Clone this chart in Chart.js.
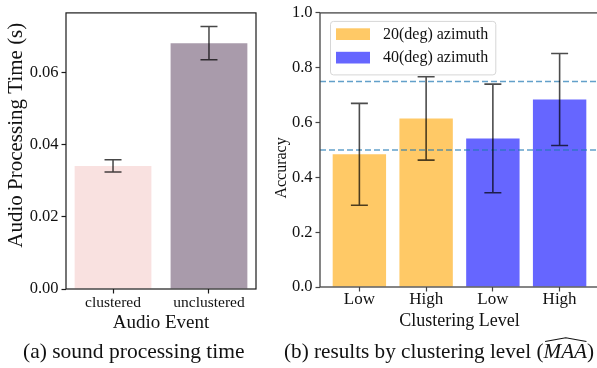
<!DOCTYPE html>
<html>
<head>
<meta charset="utf-8">
<script src="https://cdn.jsdelivr.net/npm/chart.js@4.4.1/dist/chart.umd.min.js"></script>
<style>
  html, body { margin: 0; padding: 0; background: #fff; overflow: hidden; }
  body { width: 597px; height: 368px; position: relative; font-family: 'Liberation Serif', serif; color: #111; }
  #timeChart { position: absolute; left: 0; top: 0; }
  #accChart { position: absolute; left: 270px; top: 0; }
  .caption { position: absolute; top: 341px; font-size: 21.5px; line-height: 1; white-space: nowrap; }
  #capA { left: 23px; }
  #capB { left: 284px; font-size: 21.2px; }
  .hat { position: relative; display: inline-block; }
  .hat svg { position: absolute; left: 1px; top: -4px; width: 100%; height: 5px; }
</style>
</head>
<body>
<canvas id="timeChart" width="270" height="340"></canvas>
<canvas id="accChart" width="335" height="340"></canvas>
<div class="caption" id="capA">(a) sound processing time</div>
<div class="caption" id="capB">(b) results by clustering level (<span class="hat"><i>MAA</i><svg viewBox="0 0 40 5" preserveAspectRatio="none"><path d="M1 4.5 L20 0.8 L39 4.5" fill="none" stroke="#111" stroke-width="1"/></svg></span>)</div>
<script>
// (a) processing time per audio event
const events = ['clustered', 'unclustered'];
const procTime = [0.0341, 0.0681];
const procTimeErr = [0.0017, 0.0046];
const eventColors = ['#f9e1e0', '#a99bab'];
const timeTicks = [0, 0.02, 0.04, 0.06];

// (b) accuracy by clustering level
const levels = ['Low', 'High', 'Low', 'High'];
const acc20 = [0.484, 0.615];
const acc20Err = [0.186, 0.152];
const acc40 = [0.542, 0.684];
const acc40Err = [0.198, 0.168];
const accTicks = [0, 0.2, 0.4, 0.6, 0.8, 1.0];
const refLevels = [0.75, 0.5];
const accXRange = [-0.59, 3.59];

Chart.defaults.font.family = "'Liberation Serif', serif";
Chart.defaults.color = '#111';

const errorBars = {
  id: 'errorBars',
  afterDatasetsDraw(chart, args, o) {
    const { ctx, scales: { y } } = chart;
    ctx.save();
    ctx.strokeStyle = o.color;
    ctx.lineWidth = o.width;
    chart.data.datasets.forEach((ds, i) => {
      if (!ds.errors) return;
      chart.getDatasetMeta(i).data.forEach((bar, j) => {
        const v = ds.data[j].y, e = ds.errors[j];
        const top = y.getPixelForValue(v + e), bot = y.getPixelForValue(v - e);
        ctx.beginPath();
        ctx.moveTo(bar.x, top); ctx.lineTo(bar.x, bot);
        ctx.moveTo(bar.x - o.cap, top); ctx.lineTo(bar.x + o.cap, top);
        ctx.moveTo(bar.x - o.cap, bot); ctx.lineTo(bar.x + o.cap, bot);
        ctx.stroke();
      });
    });
    ctx.restore();
  }
};

const frame = {
  id: 'frame',
  afterDraw(chart, args, o) {
    const { ctx, chartArea: a } = chart;
    ctx.save();
    ctx.strokeStyle = o.color;
    ctx.lineWidth = o.width;
    ctx.strokeRect(a.left, a.top, a.right - a.left, a.bottom - a.top);
    ctx.restore();
  }
};

// matplotlib-like legend box inside the plot area
const boxLegend = {
  id: 'boxLegend',
  afterDraw(chart, args, o) {
    if (!o.display) return;
    const { ctx, chartArea: a } = chart;
    const items = chart.data.datasets.filter(d => d.type !== 'line');
    ctx.save();
    ctx.font = o.fontSize + "px 'Liberation Serif'";
    const textW = Math.max(...items.map(d => ctx.measureText(d.label).width));
    const x0 = a.left + o.offsetX, y0 = a.top + o.offsetY;
    const w = o.padL + o.boxW + o.gap + textW + o.padR;
    const h = o.padT + o.padB + items.length * o.rowH;
    ctx.beginPath();
    ctx.roundRect(x0 + 0.5, y0 + 0.5, w, h, 3);
    ctx.fillStyle = 'rgba(255,255,255,0.8)';
    ctx.fill();
    ctx.strokeStyle = '#d6d6d6';
    ctx.lineWidth = 1;
    ctx.stroke();
    ctx.textBaseline = 'middle';
    items.forEach((d, i) => {
      const cy = y0 + o.padT + o.rowH * (i + 0.5);
      ctx.fillStyle = d.backgroundColor;
      ctx.fillRect(x0 + o.padL, cy - o.boxH / 2, o.boxW, o.boxH);
      ctx.fillStyle = '#111';
      ctx.fillText(d.label, x0 + o.padL + o.boxW + o.gap, cy + 0.5);
    });
    ctx.restore();
  }
};

function tickGrid(color) {
  return {
    offset: false,
    border: { display: false },
    grid: { display: true, offset: false, drawOnChartArea: false, drawTicks: true, tickLength: 4.5, tickColor: color, tickWidth: 1.2 }
  };
}

new Chart(document.getElementById('timeChart'), {
  type: 'bar',
  data: {
    datasets: [{
      label: 'Audio Processing Time',
      data: procTime.map((v, i) => ({ x: i, y: v })),
      errors: procTimeErr,
      backgroundColor: eventColors,
      grouped: false,
      barPercentage: 0.8,
      categoryPercentage: 1
    }]
  },
  options: {
    responsive: false,
    animation: false,
    layout: { padding: { top: 5, right: 14, left: 0, bottom: 0 } },
    plugins: {
      legend: { display: false },
      tooltip: { enabled: false },
      errorBars: { color: 'rgba(0,0,0,0.72)', width: 1.5, cap: 8.5 },
      frame: { color: '#1a1a1a', width: 1.2 }
    },
    scales: {
      x: {
        type: 'linear', min: -0.49, max: 1.49,
        afterFit: s => { s.height = 51; },
        afterBuildTicks: s => { s.ticks = events.map((_, i) => ({ value: i })); },
        ticks: { callback: v => events[v], font: { size: 15.5, lineHeight: 1 }, padding: 1.5, maxRotation: 0, autoSkip: false },
        title: { display: true, text: 'Audio Event', font: { size: 19 }, padding: { top: 0, bottom: 5.6 } },
        ...tickGrid('#1a1a1a')
      },
      y: {
        min: 0, max: 0.0765,
        afterFit: s => { s.width = 66; },
        afterBuildTicks: s => { s.ticks = timeTicks.map(v => ({ value: v })); },
        ticks: { callback: v => v.toFixed(2), font: { size: 16.5 }, padding: 3 },
        title: { display: true, text: '      Audio Processing Time (s)', font: { size: 21 }, padding: { top: 3.4, bottom: 0 } },
        ...tickGrid('#1a1a1a')
      }
    }
  },
  plugins: [errorBars, frame]
});

const barOpts = { grouped: false, barPercentage: 0.8, categoryPercentage: 1, order: 2 };

new Chart(document.getElementById('accChart'), {
  type: 'bar',
  data: {
    datasets: [
      { label: '20(deg) azimuth', data: acc20.map((v, i) => ({ x: i, y: v })), errors: acc20Err, backgroundColor: '#ffc966', ...barOpts },
      { label: '40(deg) azimuth', data: acc40.map((v, i) => ({ x: i + acc20.length, y: v })), errors: acc40Err, backgroundColor: '#6666ff', ...barOpts },
      ...refLevels.map(r => ({
        type: 'line', label: 'ref ' + r,
        data: accXRange.map(x => ({ x, y: r })),
        borderColor: 'rgba(31,119,180,0.7)', borderWidth: 1.5, borderDash: [6, 3],
        pointRadius: 0, order: 1
      }))
    ]
  },
  options: {
    responsive: false,
    animation: false,
    layout: { padding: { top: 12, right: 6, left: 0, bottom: 0 } },
    plugins: {
      legend: { display: false },
      tooltip: { enabled: false },
      errorBars: { color: 'rgba(0,0,0,0.7)', width: 1.6, cap: 8.5 },
      frame: { color: '#444', width: 1.3 },
      boxLegend: { display: true, offsetX: 10, offsetY: 8, padL: 6, padR: 7, padT: 1.5, padB: 5, rowH: 23.5, boxW: 34, boxH: 11.7, gap: 13, fontSize: 16 }
    },
    scales: {
      x: {
        type: 'linear', min: accXRange[0], max: accXRange[1],
        afterFit: s => { s.height = 53; },
        afterBuildTicks: s => { s.ticks = levels.map((_, i) => ({ value: i })); },
        ticks: { callback: v => levels[v], font: { size: 17, lineHeight: 1 }, padding: 0, maxRotation: 0, autoSkip: false },
        title: { display: true, text: 'Clustering Level', font: { size: 18 }, padding: { top: 0, bottom: 8.3 } },
        ...tickGrid('#444')
      },
      y: {
        min: 0, max: 1,
        afterFit: s => { s.width = 50; },
        afterBuildTicks: s => { s.ticks = accTicks.map(v => ({ value: v })); },
        ticks: { callback: v => v.toFixed(1), font: { size: 16.5 }, padding: 3 },
        title: { display: true, text: 'Accuracy         ', font: { size: 16 }, padding: { top: 2, bottom: 0 } },
        ...tickGrid('#444')
      }
    }
  },
  plugins: [errorBars, frame, boxLegend]
});
</script>
</body>
</html>
